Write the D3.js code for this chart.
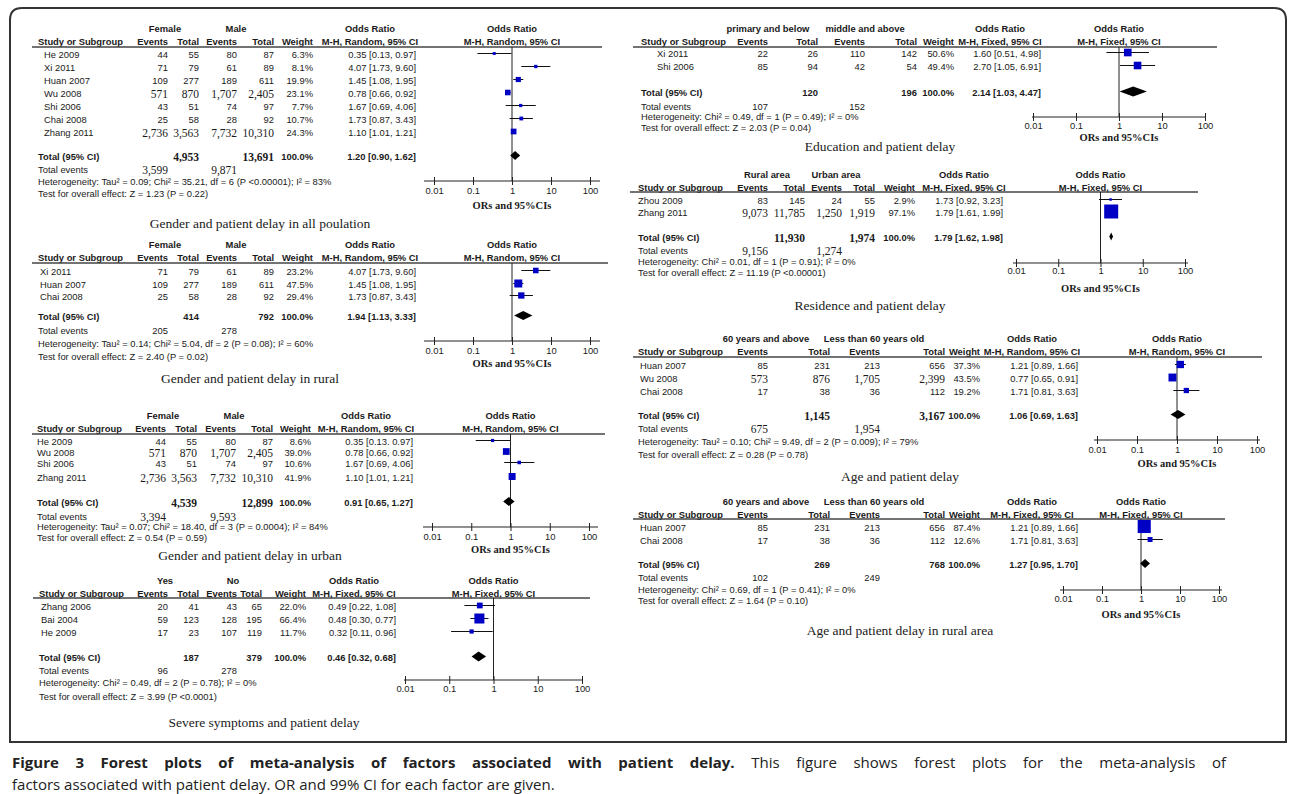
<!DOCTYPE html>
<html>
<head>
<meta charset="utf-8">
<script src="https://cdn.jsdelivr.net/npm/d3@7"></script>
<style>
  body { margin: 0; background: #fff; }
  svg { display: block; }
</style>
</head>
<body>
<div id="chart"></div>
<script>
// ---------- data ----------
const tickValues = [0.01, 0.1, 1, 10, 100];
const tickLabels = ["0.01", "0.1", "1", "10", "100"];

// Gender and patient delay in all population
const allStudies = ["He 2009", "Xi 2011", "Huan 2007", "Wu 2008", "Shi 2006", "Chai 2008", "Zhang 2011"];
const allEvA = [44, 71, 109, 571, 43, 25, 2736];
const allTotA = [55, 79, 277, 870, 51, 58, 3563];
const allEvB = [80, 61, 189, 1707, 74, 28, 7732];
const allTotB = [87, 89, 611, 2405, 97, 92, 10310];
const allWeight = [6.3, 8.1, 19.9, 23.1, 7.7, 10.7, 24.3];
const allOR = [0.35, 4.07, 1.45, 0.78, 1.67, 1.73, 1.10];
const allLo = [0.13, 1.73, 1.08, 0.66, 0.69, 0.87, 1.01];
const allHi = [0.97, 9.60, 1.95, 0.92, 4.06, 3.43, 1.21];
const allPooled = [1.20, 0.90, 1.62];
const allTotals = [4953, 13691];
const allEvents = [3599, 9871];

// Gender and patient delay in rural
const ruralStudies = ["Xi 2011", "Huan 2007", "Chai 2008"];
const ruralEvA = [71, 109, 25];
const ruralTotA = [79, 277, 58];
const ruralEvB = [61, 189, 28];
const ruralTotB = [89, 611, 92];
const ruralWeight = [23.2, 47.5, 29.4];
const ruralOR = [4.07, 1.45, 1.73];
const ruralLo = [1.73, 1.08, 0.87];
const ruralHi = [9.60, 1.95, 3.43];
const ruralPooled = [1.94, 1.13, 3.33];
const ruralTotals = [414, 792];
const ruralEvents = [205, 278];

// Gender and patient delay in urban
const urbanStudies = ["He 2009", "Wu 2008", "Shi 2006", "Zhang 2011"];
const urbanEvA = [44, 571, 43, 2736];
const urbanTotA = [55, 870, 51, 3563];
const urbanEvB = [80, 1707, 74, 7732];
const urbanTotB = [87, 2405, 97, 10310];
const urbanWeight = [8.6, 39.0, 10.6, 41.9];
const urbanOR = [0.35, 0.78, 1.67, 1.10];
const urbanLo = [0.13, 0.66, 0.69, 1.01];
const urbanHi = [0.97, 0.92, 4.06, 1.21];
const urbanPooled = [0.91, 0.65, 1.27];
const urbanTotals = [4539, 12899];
const urbanEvents = [3394, 9593];
// the printed CI column of this panel (keeps the original "0.13. 0.97" typo)
const urbanCILabels = ["0.35 [0.13. 0.97]", "0.78 [0.66, 0.92]", "1.67 [0.69, 4.06]", "1.10 [1.01, 1.21]"];

// Severe symptoms and patient delay
const severeStudies = ["Zhang 2006", "Bai 2004", "He 2009"];
const severeEvA = [20, 59, 17];
const severeTotA = [41, 123, 23];
const severeEvB = [43, 128, 107];
const severeTotB = [65, 195, 119];
const severeWeight = [22.0, 66.4, 11.7];
const severeOR = [0.49, 0.48, 0.32];
const severeLo = [0.22, 0.30, 0.11];
const severeHi = [1.08, 0.77, 0.96];
const severePooled = [0.46, 0.32, 0.68];
const severeTotals = [187, 379];
const severeEvents = [96, 278];

// Education and patient delay
const eduStudies = ["Xi 2011", "Shi 2006"];
const eduEvA = [22, 85];
const eduTotA = [26, 94];
const eduEvB = [110, 42];
const eduTotB = [142, 54];
const eduWeight = [50.6, 49.4];
const eduOR = [1.60, 2.70];
const eduLo = [0.51, 1.05];
const eduHi = [4.98, 6.91];
const eduPooled = [2.14, 1.03, 4.47];
const eduTotals = [120, 196];
const eduEvents = [107, 152];

// Residence and patient delay
const resStudies = ["Zhou 2009", "Zhang 2011"];
const resEvA = [83, 9073];
const resTotA = [145, 11785];
const resEvB = [24, 1250];
const resTotB = [55, 1919];
const resWeight = [2.9, 97.1];
const resOR = [1.73, 1.79];
const resLo = [0.92, 1.61];
const resHi = [3.23, 1.99];
const resPooled = [1.79, 1.62, 1.98];
const resTotals = [11930, 1974];
const resEvents = [9156, 1274];

// Age and patient delay
const ageStudies = ["Huan 2007", "Wu 2008", "Chai 2008"];
const ageEvA = [85, 573, 17];
const ageTotA = [231, 876, 38];
const ageEvB = [213, 1705, 36];
const ageTotB = [656, 2399, 112];
const ageWeight = [37.3, 43.5, 19.2];
const ageOR = [1.21, 0.77, 1.71];
const ageLo = [0.89, 0.65, 0.81];
const ageHi = [1.66, 0.91, 3.63];
const agePooled = [1.06, 0.69, 1.63];
const ageTotals = [1145, 3167];
const ageEvents = [675, 1954];

// Age and patient delay in rural area
const ageRuralStudies = ["Huan 2007", "Chai 2008"];
const ageRuralEvA = [85, 17];
const ageRuralTotA = [231, 38];
const ageRuralEvB = [213, 36];
const ageRuralTotB = [656, 112];
const ageRuralWeight = [87.4, 12.6];
const ageRuralOR = [1.21, 1.71];
const ageRuralLo = [0.89, 0.81];
const ageRuralHi = [1.66, 3.63];
const ageRuralPooled = [1.27, 0.95, 1.70];
const ageRuralTotals = [269, 768];
const ageRuralEvents = [102, 249];

// ---------- setup ----------
const W = 1290, H = 794;
const svg = d3.select("#chart").append("svg").attr("width", W).attr("height", H);

const SANS = "'Liberation Sans', Arial, sans-serif";
const SERIF = "'Liberation Serif', 'Times New Roman', serif";
const fmtN = d3.format(",");
const fmt2 = d3.format(".2f");
const fmtW = d => d3.format(".1f")(d) + "%";
const ciText = (o, l, h) => `${fmt2(o)} [${fmt2(l)}, ${fmt2(h)}]`;

function put(g, x, y, s, o = {}) {
  return g.append("text")
    .attr("x", x).attr("y", y).attr("dy", "0.35em")
    .attr("font-family", o.serif ? SERIF : SANS)
    .attr("font-size", o.size || (o.serif ? 11.5 : 9.4))
    .attr("font-weight", o.bold ? "bold" : null)
    .attr("text-anchor", o.anchor || "start")
    .attr("fill", "#1a1a1a")
    .text(s);
}

// frame
svg.append("path")
  .attr("d", "M10,742 V20 Q10,8 22,8 H1274 Q1286,8 1286,20 V742 Z")
  .attr("fill", "none").attr("stroke", "#333").attr("stroke-width", 2);

function drawPanel(p) {
  const L = p.layout;
  const g = svg.append("g");
  const [cEA, cTA, cEB, cTB, cW] = L.cols;
  const x = d3.scaleLog().domain([0.01, 100]).range([L.x0, L.x1]);
  const side = d3.scaleSqrt().domain([0, 100]).range([0, L.sq * 10]);
  const mid = x(1);

  // headings
  put(g, L.gA, L.yGroup, p.groups[0], { bold: true, anchor: "middle" });
  put(g, L.gB, L.yGroup, p.groups[1], { bold: true, anchor: "middle" });
  put(g, L.orHead, L.yGroup, "Odds Ratio", { bold: true, anchor: "middle" });
  put(g, mid, L.yGroup, "Odds Ratio", { bold: true, anchor: "middle" });
  put(g, L.xStudy, L.yHead, "Study or Subgroup", { bold: true });
  [["Events", cEA], ["Total", cTA], ["Events", cEB], ["Total", cTB], ["Weight", cW]]
    .forEach(([t, cx]) => put(g, cx, L.yHead, t, { bold: true, anchor: "end" }));
  const mh = `M-H, ${p.method}, 95% CI`;
  put(g, L.orHead, L.yHead, mh, { bold: true, anchor: "middle" });
  put(g, mid, L.yHead, mh, { bold: true, anchor: "middle" });
  g.append("line")
    .attr("x1", L.lineX0).attr("x2", L.lineX1)
    .attr("y1", L.yLine).attr("y2", L.yLine)
    .attr("stroke", "#444").attr("stroke-width", 1.3);

  // line of no effect
  g.append("line")
    .attr("x1", mid).attr("x2", mid)
    .attr("y1", L.yLine).attr("y2", L.yAxis)
    .attr("stroke", "#222").attr("stroke-width", 1);

  // study rows
  p.studies.forEach((s, i) => {
    const y = L.rows[i];
    const nums = [p.evA[i], p.totA[i], p.evB[i], p.totB[i]];
    const serif = nums.some(v => v >= 1000);
    put(g, L.xRow, y, s);
    nums.forEach((v, k) => put(g, L.cols[k], y, fmtN(v), { serif, anchor: "end" }));
    put(g, cW, y, fmtW(p.weight[i]), { anchor: "end" });
    const ci = p.ciLabels ? p.ciLabels[i] : ciText(p.or[i], p.lo[i], p.hi[i]);
    put(g, L.orX, y, ci, { anchor: "end" });

    const my = y - 1.5;
    g.append("line")
      .attr("x1", x(p.lo[i])).attr("x2", x(p.hi[i]))
      .attr("y1", my).attr("y2", my)
      .attr("stroke", "#111").attr("stroke-width", 1);
    const sd = Math.max(2.5, side(p.weight[i]));
    g.append("rect")
      .attr("x", x(p.or[i]) - sd / 2).attr("y", my - sd / 2)
      .attr("width", sd).attr("height", sd)
      .attr("fill", "#0000c4");
  });

  // totals
  const serifT = p.totals.some(v => v >= 1000);
  put(g, L.xStudy, L.yTotal, "Total (95% CI)", { bold: true });
  put(g, cTA, L.yTotal, fmtN(p.totals[0]), { bold: true, serif: serifT, anchor: "end" });
  put(g, cTB, L.yTotal, fmtN(p.totals[1]), { bold: true, serif: serifT, anchor: "end" });
  put(g, cW, L.yTotal, "100.0%", { bold: true, anchor: "end" });
  put(g, L.orX, L.yTotal, ciText(...p.pooled), { bold: true, anchor: "end" });

  const [po, pl, ph] = p.pooled;
  const dy = L.yTotal - 1.5, hh = L.dia / 2;
  g.append("path")
    .attr("d", `M${x(pl)},${dy} L${x(po)},${dy - hh} L${x(ph)},${dy} L${x(po)},${dy + hh} Z`)
    .attr("fill", "#000");

  const serifE = p.events.some(v => v >= 1000);
  put(g, L.xStudy, L.yTE, "Total events");
  put(g, L.teA || cEA, L.yTE, fmtN(p.events[0]), { serif: serifE, anchor: "end" });
  put(g, L.teB || cEB, L.yTE, fmtN(p.events[1]), { serif: serifE, anchor: "end" });
  put(g, L.xStudy, L.yHet, p.het);
  put(g, L.xStudy, L.yTest, p.test);

  // axis
  const axis = d3.axisBottom(x)
    .tickValues(tickValues)
    .tickFormat((d, i) => tickLabels[i])
    .tickSize(4);
  const ax = g.append("g").attr("transform", `translate(0,${L.yAxis})`).call(axis);
  ax.select(".domain").remove();
  ax.selectAll(".tick line").attr("y1", -4).attr("y2", 4).attr("stroke", "#222");
  ax.selectAll(".tick text")
    .attr("y", L.yTick - L.yAxis).attr("dy", "0.35em")
    .attr("font-family", SANS).attr("font-size", 9.4).attr("fill", "#1a1a1a");
  g.append("line")
    .attr("x1", L.x0 - L.ext).attr("x2", L.x1 + L.ext)
    .attr("y1", L.yAxis).attr("y2", L.yAxis)
    .attr("stroke", "#222").attr("stroke-width", 1.2);
  if (L.yORs) put(g, mid, L.yORs, "ORs and 95%CIs", { serif: true, bold: true, size: 10.5, anchor: "middle" });

  put(g, L.titleX, L.titleY, p.title, { serif: true, size: 13.5, anchor: "middle" });
}

const panels = [
  {
    title: "Gender and patient delay in all poulation", method: "Random", groups: ["Female", "Male"],
    studies: allStudies, evA: allEvA, totA: allTotA, evB: allEvB, totB: allTotB, weight: allWeight,
    or: allOR, lo: allLo, hi: allHi, pooled: allPooled, totals: allTotals, events: allEvents,
    het: "Heterogeneity: Tau² = 0.09; Chi² = 35.21, df = 6 (P <0.00001); I² = 83%",
    test: "Test for overall effect: Z = 1.23 (P = 0.22)",
    layout: { xStudy: 38, xRow: 44, cols: [168, 199, 237, 274, 313], orX: 416, gA: 165, gB: 236, orHead: 370,
      yGroup: 29, yHead: 42, yLine: 47, rows: [55, 68, 81, 94, 107, 120, 133], yTotal: 157, yTE: 170, yHet: 182, yTest: 194,
      lineX0: 32, lineX1: 602, x0: 434, x1: 590, ext: 10, yAxis: 181, yTick: 191, yORs: 205, titleX: 260, titleY: 223, sq: 1.16, dia: 9 }
  },
  {
    title: "Gender and patient delay in rural", method: "Random", groups: ["Female", "Male"],
    studies: ruralStudies, evA: ruralEvA, totA: ruralTotA, evB: ruralEvB, totB: ruralTotB, weight: ruralWeight,
    or: ruralOR, lo: ruralLo, hi: ruralHi, pooled: ruralPooled, totals: ruralTotals, events: ruralEvents,
    het: "Heterogeneity: Tau² = 0.14; Chi² = 5.04, df = 2 (P = 0.08); I² = 60%",
    test: "Test for overall effect: Z = 2.40 (P = 0.02)",
    layout: { xStudy: 38, xRow: 40, cols: [168, 199, 237, 274, 313], orX: 416, gA: 165, gB: 236, orHead: 370,
      yGroup: 245, yHead: 258, yLine: 263, rows: [272, 285, 297], yTotal: 317, yTE: 331, yHet: 344, yTest: 357,
      lineX0: 32, lineX1: 608, x0: 434, x1: 590, ext: 10, yAxis: 341, yTick: 351, yORs: 363, titleX: 250, titleY: 378, sq: 1.16, dia: 9 }
  },
  {
    title: "Gender and patient delay in urban", method: "Random", groups: ["Female", "Male"],
    studies: urbanStudies, evA: urbanEvA, totA: urbanTotA, evB: urbanEvB, totB: urbanTotB, weight: urbanWeight,
    or: urbanOR, lo: urbanLo, hi: urbanHi, pooled: urbanPooled, totals: urbanTotals, events: urbanEvents,
    ciLabels: urbanCILabels,
    het: "Heterogeneity: Tau² = 0.07; Chi² = 18.40, df = 3 (P = 0.0004); I² = 84%",
    test: "Test for overall effect: Z = 0.54 (P = 0.59)",
    layout: { xStudy: 37, xRow: 37, cols: [166, 197, 236, 273, 311], orX: 413, gA: 163, gB: 234, orHead: 366,
      yGroup: 416, yHead: 429, yLine: 434, rows: [442, 453, 464, 478], yTotal: 503, yTE: 517, yHet: 527, yTest: 538,
      lineX0: 32, lineX1: 605, x0: 432, x1: 589, ext: 9, yAxis: 527, yTick: 537, yORs: 549, titleX: 250, titleY: 555, sq: 1.08, dia: 9 }
  },
  {
    title: "Severe symptoms and patient delay", method: "Fixed", groups: ["Yes", "No"],
    studies: severeStudies, evA: severeEvA, totA: severeTotA, evB: severeEvB, totB: severeTotB, weight: severeWeight,
    or: severeOR, lo: severeLo, hi: severeHi, pooled: severePooled, totals: severeTotals, events: severeEvents,
    het: "Heterogeneity: Chi² = 0.49, df = 2 (P = 0.78); I² = 0%",
    test: "Test for overall effect: Z = 3.99 (P <0.0001)",
    layout: { xStudy: 39, xRow: 41, cols: [168, 199, 237, 262, 306], orX: 396, gA: 165, gB: 233, orHead: 354,
      yGroup: 581, yHead: 594, yLine: 598, rows: [607, 620, 633], yTotal: 658, yTE: 671, yHet: 683, yTest: 697,
      lineX0: 33, lineX1: 590, x0: 405, x1: 582, ext: 1, yAxis: 680, yTick: 689, yORs: null, titleX: 264, titleY: 722, sq: 1.23, dia: 10 }
  },
  {
    title: "Education and patient delay", method: "Fixed", groups: ["primary and below", "middle and above"],
    studies: eduStudies, evA: eduEvA, totA: eduTotA, evB: eduEvB, totB: eduTotB, weight: eduWeight,
    or: eduOR, lo: eduLo, hi: eduHi, pooled: eduPooled, totals: eduTotals, events: eduEvents,
    het: "Heterogeneity: Chi² = 0.49, df = 1 (P = 0.49); I² = 0%",
    test: "Test for overall effect: Z = 2.03 (P = 0.04)",
    layout: { xStudy: 641, xRow: 657, cols: [768, 818, 865, 917, 954], orX: 1041, gA: 768, gB: 865, orHead: 1000,
      yGroup: 29, yHead: 42, yLine: 47, rows: [54, 67], yTotal: 93, yTE: 107, yHet: 117, yTest: 128,
      lineX0: 633, lineX1: 1217, x0: 1033, x1: 1205, ext: 1, yAxis: 117, yTick: 126, yORs: 137, titleX: 880, titleY: 146, sq: 1.08, dia: 10 }
  },
  {
    title: "Residence and patient delay", method: "Fixed", groups: ["Rural area", "Urban area"],
    studies: resStudies, evA: resEvA, totA: resTotA, evB: resEvB, totB: resTotB, weight: resWeight,
    or: resOR, lo: resLo, hi: resHi, pooled: resPooled, totals: resTotals, events: resEvents,
    het: "Heterogeneity: Chi² = 0.01, df = 1 (P = 0.91); I² = 0%",
    test: "Test for overall effect: Z = 11.19 (P <0.00001)",
    layout: { xStudy: 638, xRow: 638, cols: [768, 805, 842, 875, 915], orX: 1003, gA: 767, gB: 836, orHead: 964,
      yGroup: 175, yHead: 188, yLine: 192, rows: [201, 213], yTotal: 238, yTE: 251, yHet: 262, yTest: 273,
      lineX0: 630, lineX1: 1198, x0: 1016, x1: 1185, ext: 3, yAxis: 263, yTick: 271, yORs: 288, titleX: 870, titleY: 305, sq: 1.42, dia: 8 }
  },
  {
    title: "Age and patient delay", method: "Random", groups: ["60 years and above", "Less than 60 years old"],
    studies: ageStudies, evA: ageEvA, totA: ageTotA, evB: ageEvB, totB: ageTotB, weight: ageWeight,
    or: ageOR, lo: ageLo, hi: ageHi, pooled: agePooled, totals: ageTotals, events: ageEvents,
    het: "Heterogeneity: Tau² = 0.10; Chi² = 9.49, df = 2 (P = 0.009); I² = 79%",
    test: "Test for overall effect: Z = 0.28 (P = 0.78)",
    layout: { xStudy: 638, xRow: 640, cols: [768, 830, 880, 945, 980], orX: 1078, gA: 766, gB: 874, orHead: 1032,
      yGroup: 339, yHead: 352, yLine: 357, rows: [366, 379, 392], yTotal: 416, yTE: 429, yHet: 442, yTest: 455,
      lineX0: 633, lineX1: 1262, x0: 1097, x1: 1257, ext: 3, yAxis: 440, yTick: 450, yORs: 463, titleX: 900, titleY: 476, sq: 1.2, dia: 9 }
  },
  {
    title: "Age and patient delay in rural area", method: "Fixed", groups: ["60 years and above", "Less than 60 years old"],
    studies: ageRuralStudies, evA: ageRuralEvA, totA: ageRuralTotA, evB: ageRuralEvB, totB: ageRuralTotB, weight: ageRuralWeight,
    or: ageRuralOR, lo: ageRuralLo, hi: ageRuralHi, pooled: ageRuralPooled, totals: ageRuralTotals, events: ageRuralEvents,
    het: "Heterogeneity: Chi² = 0.69, df = 1 (P = 0.41); I² = 0%",
    test: "Test for overall effect: Z = 1.64 (P = 0.10)",
    layout: { xStudy: 638, xRow: 640, cols: [768, 830, 880, 945, 980], orX: 1078, gA: 766, gB: 874, orHead: 1032,
      yGroup: 502, yHead: 515, yLine: 519, rows: [528, 541], yTotal: 565, yTE: 578, yHet: 590, yTest: 601,
      lineX0: 633, lineX1: 1225, x0: 1063, x1: 1219, ext: 3, yAxis: 590, yTick: 599, yORs: 614, titleX: 900, titleY: 630, sq: 1.4, dia: 9 }
  }
];

panels.forEach(drawPanel);

// caption (first line justified to the full width)
const CAP_FONT = "'Open Sans', 'Liberation Sans', sans-serif";
const cap = svg.append("text")
  .attr("x", 12).attr("y", 768)
  .attr("font-family", CAP_FONT)
  .attr("font-size", 15).attr("fill", "#222");
cap.append("tspan").attr("font-weight", "bold")
  .text("Figure 3 Forest plots of meta-analysis of factors associated with patient delay.");
cap.append("tspan").text(" This figure shows forest plots for the meta-analysis of");
const capW = cap.node().getComputedTextLength();
const capSpaces = cap.text().split(" ").length - 1;
cap.style("word-spacing", `${Math.max(0, (1226 - 12 - capW) / capSpaces)}px`);

svg.append("text")
  .attr("x", 12).attr("y", 790)
  .attr("font-family", CAP_FONT)
  .attr("font-size", 15).attr("fill", "#222")
  .text("factors associated with patient delay. OR and 99% CI for each factor are given.");
</script>
</body>
</html>
